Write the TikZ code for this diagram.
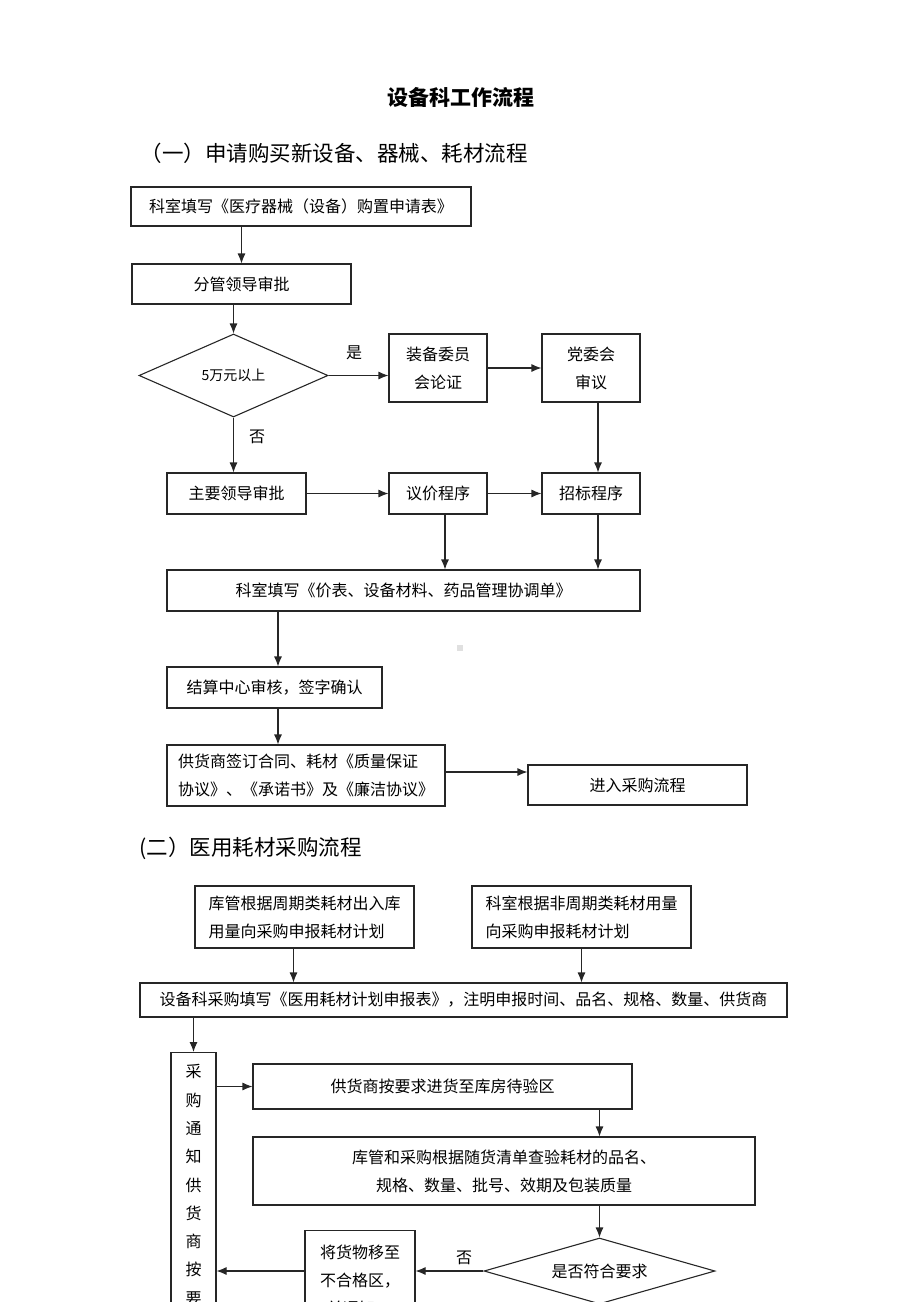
\documentclass[tikz,border=0pt]{standalone}
\usepackage{fontspec}
\setmainfont{Noto Sans CJK SC}
\usetikzlibrary{shapes.geometric,arrows.meta}
\newcommand\bx{\fontsize{16}{28}\selectfont}
\newcommand\hd{\fontsize{21.5}{26}\selectfont}

\begin{document}
\begin{tikzpicture}[x=1pt,y=-1pt,line width=1.1pt,
    box/.style={draw, color=black!85, text=black, inner sep=2pt, align=center, font=\bx},
    choice/.style={draw, color=black!85, text=black, diamond, inner sep=1pt, aspect=2.5, font=\bx},
    lbl/.style={inner sep=0pt, font=\bx},
    arr/.style={->,>={Latex[length=10pt,width=8pt]}, color=black!85}]
    \path[use as bounding box, clip] (0,0) rectangle (920,1302);

    % titles
    \node[inner sep=0pt, font=\fontsize{21}{26}\selectfont\bfseries] (title) at (461,97) {设备科工作流程};
    \node[inner sep=0pt, anchor=west, font=\hd] (part1) at (140,153) {（一）申请购买新设备、器械、耗材流程};
    \node[inner sep=0pt, anchor=west, font=\hd] (part2) at (139,848) {(二）医用耗材采购流程};

    % part one
    \node[box, minimum width=340pt, minimum height=39pt] (apply) at (301,206.5) {科室填写《医疗器械（设备）购置申请表》};
    \node[box, minimum width=219pt, minimum height=40pt] (approve) at (241.5,284) {分管领导审批};
    \node[choice, minimum width=189pt, minimum height=83pt, font=\fontsize{14}{16}\selectfont] (limit) at (233.5,375.5) {5万元以上};
    \node[box, minimum width=98pt, minimum height=68pt] (argue) at (438,368) {装备委员\\会论证};
    \node[box, minimum width=98pt, minimum height=68pt] (party) at (591,368) {党委会\\审议};
    \node[box, minimum width=139pt, minimum height=41pt] (chief) at (236.5,493.5) {主要领导审批};
    \node[box, minimum width=98pt, minimum height=41pt] (price) at (438,493.5) {议价程序};
    \node[box, minimum width=98pt, minimum height=41pt] (tender) at (591,493.5) {招标程序};
    \node[box, minimum width=473pt, minimum height=41pt] (coord) at (403.5,590.5) {科室填写《价表、设备材料、药品管理协调单》};
    \node[box, minimum width=215pt, minimum height=41pt] (settle) at (274.5,687.5) {结算中心审核，签字确认};
    \node[box, align=left, minimum width=278pt, minimum height=61pt] (contract) at (306,775.5) {供货商签订合同、耗材《质量保证\\协议》、《承诺书》及《廉洁协议》};
    \node[box, minimum width=219pt, minimum height=40pt] (purchase) at (637.5,785) {进入采购流程};
    \node[lbl] (yes1) at (354,353) {是};
    \node[lbl] (no1) at (257,437) {否};
    \fill[black!12] (457,645) rectangle (463,651);

    \draw[arr] (apply.south -| approve.north) -- (approve.north);
    \draw[arr] (approve.south -| limit.north) -- (limit.north);
    \draw[arr] (limit.east) -- (limit.east -| argue.west);
    \draw[arr] (argue) -- (party);
    \draw[arr] ([xshift=7pt]party.south) -- ([xshift=7pt]tender.north);
    \draw[arr] (limit.south) -- (limit.south |- chief.north);
    \draw[arr] (chief) -- (price);
    \draw[arr] (price) -- (tender);
    \draw[arr] ([xshift=7pt]price.south) -- ([xshift=7pt]price.south |- coord.north);
    \draw[arr] ([xshift=7pt]tender.south) -- ([xshift=7pt]tender.south |- coord.north);
    \draw[arr] ([xshift=3.5pt]settle.north |- coord.south) -- ([xshift=3.5pt]settle.north);
    \draw[arr] ([xshift=3.5pt]settle.south) -- ([xshift=3.5pt]settle.south |- contract.north);
    \draw[arr] ([yshift=3.5pt]contract.east) -- ([yshift=3.5pt]contract.east -| purchase.west);

    % part two
    \node[box, align=left, minimum width=219pt, minimum height=62pt] (stock) at (304.5,917) {库管根据周期类耗材出入库\\用量向采购申报耗材计划};
    \node[box, align=left, minimum width=219pt, minimum height=62pt] (dept) at (581.5,917) {科室根据非周期类耗材用量\\向采购申报耗材计划};
    \node[box, minimum width=647pt, minimum height=34pt] (report) at (463.5,1000) {设备科采购填写《医用耗材计划申报表》，注明申报时间、品名、规格、数量、供货商};
    \node[box, anchor=north, inner xsep=2pt, inner ysep=12pt, text width=41pt, font=\fontsize{16}{28.3}\selectfont] (notify) at (193.5,1052) {采\\购\\通\\知\\供\\货\\商\\按\\要};
    \node[box, minimum width=379pt, minimum height=45pt] (deliver) at (442.5,1086.5) {供货商按要求进货至库房待验区};
    \node[box, minimum width=502pt, minimum height=68pt] (check) at (504,1171) {库管和采购根据随货清单查验耗材的品名、\\规格、数量、批号、效期及包装质量};
    \node[choice, minimum width=231pt, minimum height=66pt] (meets) at (599.5,1271) {是否符合要求};
    \node[box, align=left, anchor=north, inner ysep=8pt, minimum width=110pt, minimum height=100pt] (reject) at (360,1230) {将货物移至\\不合格区，\\\ \ 并通知};
    \node[lbl] (no2) at (464,1258) {否};

    \draw[arr] ([xshift=-11pt]stock.south) -- ([xshift=-11pt]stock.south |- report.north);
    \draw[arr] (dept.south) -- (dept.south |- report.north);
    \draw[arr] (notify.north |- report.south) -- (notify.north);
    \draw[arr] (notify.east |- deliver.west) -- (deliver.west);
    \draw[arr] (meets.north |- deliver.south) -- (meets.north |- check.north);
    \draw[arr] (meets.north |- check.south) -- (meets.north);
    \draw[arr] (meets.west) -- (meets.west -| reject.east);
    \draw[arr] (meets.west -| reject.west) -- (meets.west -| notify.east);
  \end{tikzpicture}
\end{document}
